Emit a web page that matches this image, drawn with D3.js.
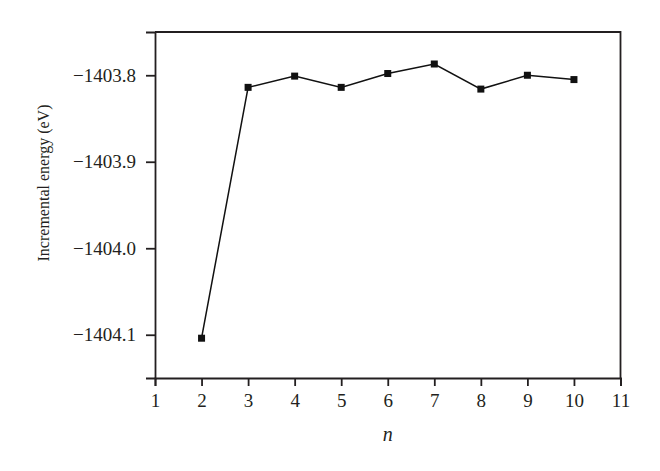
<!DOCTYPE html>
<html>
<head>
<meta charset="UTF-8">
<title>Incremental energy</title>
<style>
  body { margin: 0; background: #fff; }
  svg text { font-family: "Liberation Serif", "DejaVu Serif", serif; fill: #231f20; }
</style>
</head>
<body>
<script src="https://cdn.jsdelivr.net/npm/d3@7/dist/d3.min.js"></script>
<script>
// data
var nValues = [2, 3, 4, 5, 6, 7, 8, 9, 10];
var energy = [-1404.104, -1403.814, -1403.801, -1403.814, -1403.798, -1403.787, -1403.816, -1403.800, -1403.805];
var xTicks = [1, 2, 3, 4, 5, 6, 7, 8, 9, 10, 11];
var xMinor = [1.5, 2.5, 3.5, 4.5, 5.5, 6.5, 7.5, 8.5, 9.5, 10.5];
var yTicks = [-1403.8, -1403.9, -1404.0, -1404.1];
var yMinor = [-1403.75, -1403.85, -1403.95, -1404.05, -1404.15];

var width = 660, height = 471;
var margin = {top: 32, right: 39.5, bottom: 93, left: 155};
var ink = "#231f20";

var svg = d3.select("body").append("svg")
    .attr("width", width)
    .attr("height", height);

var x = d3.scaleLinear().domain([1, 11]).range([margin.left, width - margin.right]);
var y = d3.scaleLinear().domain([-1404.15, -1403.75]).range([height - margin.bottom, margin.top]);

// frame (top and right)
svg.append("path")
    .attr("d", "M" + x(1) + "," + y(-1403.75) + "H" + x(11) + "V" + y(-1404.15))
    .attr("fill", "none")
    .attr("stroke", ink)
    .attr("stroke-width", 1.8);

// x axis
var gx = svg.append("g")
    .attr("transform", "translate(0," + y(-1404.15) + ")");
gx.call(d3.axisBottom(x).tickValues(xMinor).tickSize(4).tickFormat(""));
gx.call(d3.axisBottom(x).tickValues(xTicks).tickSize(8).tickPadding(8).tickFormat(d3.format("d")));
gx.selectAll("path.domain").attr("stroke", ink).attr("stroke-width", 1.8);
gx.selectAll("line").attr("stroke", ink).attr("stroke-width", 1.8);
gx.selectAll("text").style("font-size", "19px").style("font-family", "Liberation Serif, serif").attr("fill", ink);

// y axis
var gy = svg.append("g")
    .attr("transform", "translate(" + x(1) + ",0)");
gy.call(d3.axisLeft(y).tickValues(yMinor).tickSize(5).tickFormat(""));
gy.call(d3.axisLeft(y).tickValues(yTicks).tickSize(9).tickPadding(10).tickFormat(d3.format(".1f")));
gy.selectAll("path.domain").attr("stroke", ink).attr("stroke-width", 1.8);
gy.selectAll("line").attr("stroke", ink).attr("stroke-width", 1.8);
gy.selectAll("text").style("font-size", "19px").style("font-family", "Liberation Serif, serif").attr("fill", ink);

// axis titles
svg.append("text")
    .attr("x", x(6))
    .attr("y", 441)
    .attr("text-anchor", "middle")
    .style("font-size", "20px")
    .style("font-style", "italic")
    .text("n");

svg.append("text")
    .attr("transform", "translate(49," + 183 + ") rotate(-90)")
    .attr("text-anchor", "middle")
    .style("font-size", "16px")
    .text("Incremental energy (eV)");

// line + markers
var pts = nValues.map(function(d, i) { return [d, energy[i]]; });
svg.append("path")
    .datum(pts)
    .attr("d", d3.line().x(function(d) { return x(d[0]); }).y(function(d) { return y(d[1]); }))
    .attr("fill", "none")
    .attr("stroke", "#111")
    .attr("stroke-width", 1.5);

var s = 7;
svg.selectAll("rect.pt")
    .data(pts)
    .enter().append("rect")
    .attr("class", "pt")
    .attr("x", function(d) { return x(d[0]) - s / 2; })
    .attr("y", function(d) { return y(d[1]) - s / 2; })
    .attr("width", s)
    .attr("height", s)
    .attr("fill", "#111");
</script>
</body>
</html>
